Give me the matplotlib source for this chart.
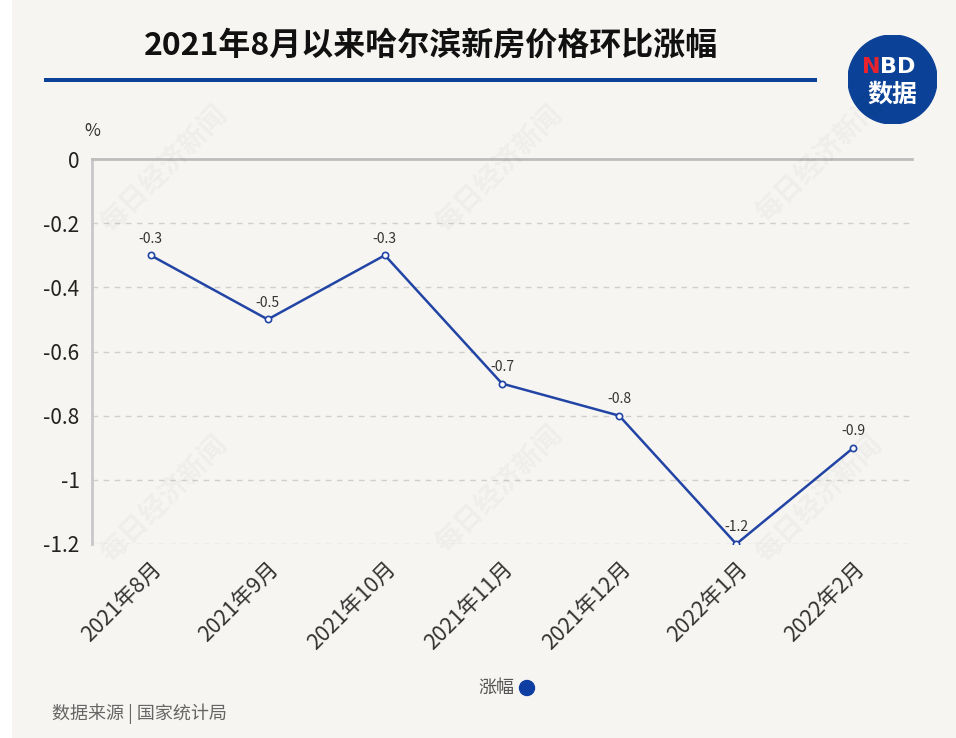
import numpy as np
import matplotlib as mpl
import matplotlib.pyplot as plt
from matplotlib.patches import Circle, Rectangle

# -------------------------
# Data
# -------------------------

months = ["2021年8月", "2021年9月", "2021年10月", "2021年11月",
          "2021年12月", "2022年1月", "2022年2月"]
change = [-0.3, -0.5, -0.3, -0.7, -0.8, -1.2, -0.9]
y_ticks = [0, -0.2, -0.4, -0.6, -0.8, -1, -1.2]
y_tick_labels = ["0", "-0.2", "-0.4", "-0.6", "-0.8", "-1", "-1.2"]

# -------------------------
# Style
# -------------------------

plt.rcParams["font.family"] = ["Noto Sans CJK SC", "DejaVu Sans"]

BG = "#f7f5f1"
LINE = "#2144a5"
NAVY = "#0b4297"
GRID = "#cfcfcf"

W, H = 956, 738
fig = plt.figure(figsize=(W / 100, H / 100), dpi=100)
fig.patch.set_facecolor(BG)

# white strip on the left edge
fig.patches.append(Rectangle((0, 0), 12 / W, 1, transform=fig.transFigure,
                             facecolor="white", edgecolor="none", zorder=0))

# watermarks
for (wx, wy) in [(165, 170), (500, 170), (820, 160), (165, 500),
                 (500, 490), (820, 500)]:
    fig.text(wx / W, 1 - wy / H, "每日经济新闻", fontsize=20, rotation=45,
             color="#000000", alpha=0.03, ha="center", va="center",
             fontweight="bold")

# -------------------------
# Axes
# -------------------------

left, right, top, bottom = 92, 912, 159, 544
ax = fig.add_axes([left / W, 1 - bottom / H, (right - left) / W, (bottom - top) / H])
ax.set_facecolor("none")

x = np.arange(len(months))
ax.plot(x, change, color=LINE, lw=1.8, zorder=3)
ax.plot(x, change, ls="none", marker="o", ms=4.5, mfc="white", mec=LINE,
        mew=1.2, zorder=4)

for xi, v in zip(x, change):
    ax.annotate(f"{v:g}", (xi, v), xytext=(0, 7), textcoords="offset points",
                ha="center", va="bottom", fontsize=10, color="#333333")

ax.set_xlim(-0.5, len(months) - 0.5)
ax.set_ylim(-1.2, 0)

ax.set_yticks(y_ticks)
ax.set_yticklabels(y_tick_labels, fontsize=15, color="#222222")
ax.set_xticks(x)
ax.set_xticklabels(months, rotation=45, ha="right", rotation_mode="anchor",
                   fontsize=15.5, color="#333333")
ax.tick_params(axis="both", length=0)
ax.tick_params(axis="y", pad=9)
ax.tick_params(axis="x", pad=10)

for yv in y_ticks[1:]:
    ax.axhline(yv, color=GRID, lw=1, ls=(0, (4, 4)), zorder=1)

for s in ["right", "bottom"]:
    ax.spines[s].set_visible(False)
ax.spines["top"].set_color("#bdbdbd")
ax.spines["top"].set_linewidth(2)
ax.spines["left"].set_color("#c8c8c8")
ax.spines["left"].set_linewidth(2)

fig.text(92 / W, 1 - 131 / H, "%", fontsize=12.5, color="#333333",
         ha="center", va="center")

# -------------------------
# Title, rule and logo
# -------------------------

fig.text(431 / W, 1 - 46 / H, "2021年8月以来哈尔滨新房价格环比涨幅",
         fontsize=23, fontweight="bold", color="#111111",
         ha="center", va="center")
fig.patches.append(Rectangle((44 / W, 1 - 82 / H), (817 - 44) / W, 4 / H,
                             transform=fig.transFigure, facecolor=NAVY,
                             edgecolor="none"))

logo = fig.add_axes([848 / W, 1 - 124 / H, 89 / W, 89 / H])
logo.set_xlim(-1, 1)
logo.set_ylim(-1, 1)
logo.set_aspect("equal")
logo.axis("off")
logo.add_patch(Circle((0, 0), 1, color=NAVY))
logo.text(-0.28, 0.27, "N", color="#e8232e", fontsize=16, fontweight="bold",
          ha="right", va="center", family="DejaVu Sans")
logo.text(-0.28, 0.27, "BD", color="white", fontsize=16, fontweight="bold",
          ha="left", va="center", family="DejaVu Sans")
logo.text(0.0, -0.33, "数据", color="white", fontsize=18, fontweight="bold",
          ha="center", va="center")

# -------------------------
# Legend and source
# -------------------------

fig.text(514 / W, 1 - 688 / H, "涨幅", fontsize=13, color="#555555",
         ha="right", va="center")
fig.patches.append(Circle((5.27, (H - 688) / 100), 0.075,
                          transform=fig.dpi_scale_trans, color="#0f3ea3"))
fig.text(52 / W, 1 - 714 / H, "数据来源 | 国家统计局", fontsize=13,
         color="#666666", ha="left", va="center")

fig.savefig("out.png", dpi=100, facecolor=BG)
